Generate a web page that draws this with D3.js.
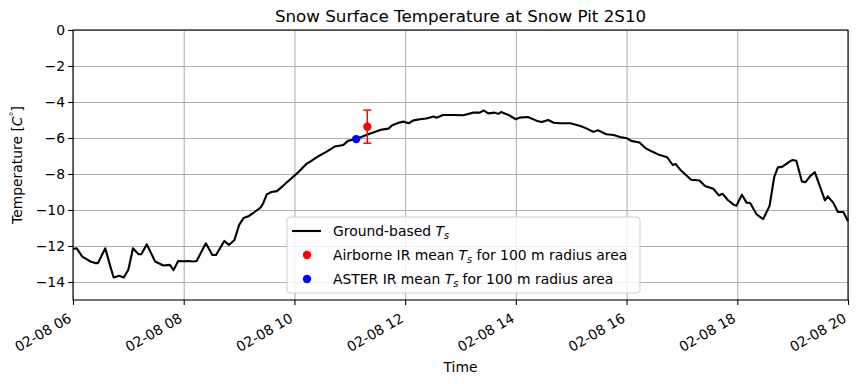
<!DOCTYPE html>
<html lang="en">
<head>
<meta charset="UTF-8">
<title>Snow Surface Temperature at Snow Pit 2S10</title>
<style>
    body { margin: 0; background: #fff; }
    svg { font-family: "DejaVu Sans", sans-serif; }
    .grid line { stroke: #b0b0b0; stroke-width: 1.1px; }
    .grid path { display: none; }
</style>
</head>
<body>
<div id="chart"></div>
<script src="https://cdn.jsdelivr.net/npm/d3@7"></script>
<script>
// ground-based snow surface temperature, 2020-02-08 (hour of day, degC)
const hours = [6.00,6.07,6.16,6.31,6.40,6.45,6.58,6.67,6.74,6.84,6.91,7.00,7.08,7.18,7.24,7.33,7.49,7.63,7.75,7.82,
    7.90,7.99,8.08,8.17,8.23,8.40,8.51,8.58,8.73,8.82,8.91,9.00,9.09,9.17,9.26,9.38,9.43,9.50,9.59,9.68,
    9.79,9.86,9.91,10.01,10.10,10.22,10.30,10.40,10.58,10.73,10.88,10.97,11.12,11.30,11.55,11.70,11.76,11.88,11.97,12.06,
    12.15,12.27,12.39,12.51,12.57,12.69,12.87,13.05,13.23,13.35,13.41,13.50,13.62,13.68,13.74,13.86,14.00,14.07,14.22,14.38,
    14.46,14.59,14.68,14.80,14.98,15.16,15.28,15.40,15.49,15.64,15.76,15.88,16.00,16.09,16.24,16.35,16.45,16.60,16.74,16.83,
    16.89,16.99,17.17,17.31,17.42,17.57,17.66,17.73,17.84,17.93,17.99,18.08,18.17,18.24,18.35,18.47,18.58,18.66,18.74,18.82,
    18.95,19.00,19.07,19.16,19.24,19.32,19.40,19.58,19.64,19.73,19.82,19.91,20.00];
const groundTs = [-12.17,-12.13,-12.59,-12.86,-12.95,-12.95,-12.13,-13.05,-13.75,-13.65,-13.75,-13.32,-12.13,-12.46,-12.46,-11.91,-12.86,-13.08,-13.05,-13.34,
    -12.83,-12.85,-12.83,-12.86,-12.83,-11.85,-12.50,-12.50,-11.72,-11.94,-11.67,-10.84,-10.44,-10.35,-10.14,-9.88,-9.65,-9.13,-9.00,-8.95,
    -8.69,-8.45,-8.32,-8.05,-7.81,-7.44,-7.28,-7.07,-6.76,-6.47,-6.39,-6.16,-6.06,-5.83,-5.55,-5.48,-5.29,-5.15,-5.09,-5.18,
    -5.02,-4.96,-4.92,-4.81,-4.87,-4.72,-4.72,-4.74,-4.59,-4.59,-4.47,-4.63,-4.59,-4.66,-4.56,-4.72,-4.96,-4.87,-4.83,-5.05,
    -5.11,-5.00,-5.15,-5.18,-5.18,-5.33,-5.48,-5.66,-5.57,-5.79,-5.83,-5.94,-6.01,-6.16,-6.25,-6.58,-6.74,-6.95,-7.07,-7.50,
    -7.44,-7.81,-8.32,-8.36,-8.67,-8.82,-9.19,-9.10,-9.46,-9.70,-9.77,-9.15,-9.59,-9.61,-10.25,-10.51,-9.77,-8.18,-7.63,-7.59,
    -7.30,-7.22,-7.26,-8.42,-8.45,-8.12,-7.90,-9.46,-9.24,-9.59,-10.11,-10.11,-10.62];

// remote sensing means
const airborne = { hour: 11.31, ts: -5.37, err: 0.92 };
const aster = { hour: 11.12, ts: -6.06 };

const xRange = [6, 20];
const yRange = [-15, 0];
const yTicks = [-14, -12, -10, -8, -6, -4, -2, 0];

const toDate = h => new Date(2020, 1, 8, Math.floor(h), Math.round((h % 1) * 60));

const W = 857, H = 384;
const margin = { top: 30, right: 9, bottom: 84, left: 73 };
const w = W - margin.left - margin.right;
const h = H - margin.top - margin.bottom;
const fs = "13.9px";
const font = "DejaVu Sans, sans-serif";

const svg = d3.select("#chart").append("svg").attr("width", W).attr("height", H);
const g = svg.append("g").attr("transform", `translate(${margin.left},${margin.top})`);

const x = d3.scaleTime().domain(xRange.map(toDate)).range([0, w]);
const y = d3.scaleLinear().domain(yRange).range([h, 0]);
const xTicks = d3.range(6, 21, 2).map(toDate);

// grid
g.append("g").attr("class", "grid").attr("transform", `translate(0,${h})`)
    .call(d3.axisBottom(x).tickValues(xTicks).tickSize(-h).tickFormat(""));
g.append("g").attr("class", "grid")
    .call(d3.axisLeft(y).tickValues(yTicks).tickSize(-w).tickFormat(""));

// ground line
const line = d3.line().x((d, i) => x(toDate(hours[i]))).y(d => y(d));
g.append("path").datum(groundTs).attr("d", line)
    .attr("fill", "none").attr("stroke", "black").attr("stroke-width", 2.1)
    .attr("stroke-linejoin", "round");

// airborne with error bar
const ax = x(toDate(airborne.hour));
g.append("line").attr("x1", ax).attr("x2", ax)
    .attr("y1", y(airborne.ts - airborne.err)).attr("y2", y(airborne.ts + airborne.err))
    .attr("stroke", "red").attr("stroke-width", 1.5);
[airborne.ts - airborne.err, airborne.ts + airborne.err].forEach(v => {
    g.append("line").attr("x1", ax - 4).attr("x2", ax + 4).attr("y1", y(v)).attr("y2", y(v))
        .attr("stroke", "red").attr("stroke-width", 1.5);
});
g.append("circle").attr("cx", ax).attr("cy", y(airborne.ts)).attr("r", 4.2).attr("fill", "red");
g.append("circle").attr("cx", x(toDate(aster.hour))).attr("cy", y(aster.ts)).attr("r", 4.2).attr("fill", "blue");

// axes
const xAxis = g.append("g").attr("transform", `translate(0,${h})`)
    .call(d3.axisBottom(x).tickValues(xTicks).tickFormat(d3.timeFormat("%m-%d %H")).tickSize(4.9).tickSizeOuter(0));
xAxis.selectAll("text")
    .attr("text-anchor", "end")
    .attr("dy", null).attr("y", 0)
    .attr("transform", "translate(-1,21) rotate(-30)");
const yAxis = g.append("g")
    .call(d3.axisLeft(y).tickValues(yTicks).tickFormat(d => d < 0 ? "\u2212" + Math.abs(d) : d).tickSize(4.9).tickSizeOuter(0));
yAxis.selectAll("text").attr("x", -8);
[xAxis, yAxis].forEach(a => {
    a.attr("font-family", font).attr("font-size", fs);
    a.selectAll("text").attr("fill", "black");
    a.select(".domain").remove();
    a.selectAll("line").attr("stroke", "black").attr("stroke-width", 1.1);
});

// frame
g.append("rect").attr("width", w).attr("height", h)
    .attr("fill", "none").attr("stroke", "black").attr("stroke-width", 1.1);

// titles
svg.append("text").attr("x", margin.left + w / 2).attr("y", 22)
    .attr("text-anchor", "middle").attr("font-size", "16.7px").text("Snow Surface Temperature at Snow Pit 2S10");
svg.append("text").attr("x", margin.left + w / 2).attr("y", 372)
    .attr("text-anchor", "middle").attr("font-size", fs).text("Time");
const yl = svg.append("text").attr("transform", `translate(22,${margin.top + h / 2}) rotate(-90)`)
    .attr("text-anchor", "middle").attr("font-size", fs);
yl.append("tspan").text("Temperature [");
yl.append("tspan").attr("font-style", "italic").text("C");
yl.append("tspan").attr("font-size", "10px").attr("dy", -5).text("°");
yl.append("tspan").attr("dy", 5).text("]");

// legend
const leg = svg.append("g").attr("transform", "translate(287,217)");
leg.append("rect").attr("width", 353).attr("height", 76).attr("rx", 3)
    .attr("fill", "white").attr("fill-opacity", 0.8).attr("stroke", "#d0d0d0");
const items = [
    { type: "line", color: "black", pre: "Ground-based ", post: "" },
    { type: "dot", color: "red", pre: "Airborne IR mean ", post: " for 100 m radius area" },
    { type: "dot", color: "blue", pre: "ASTER IR mean ", post: " for 100 m radius area" }
];
items.forEach((it, i) => {
    const cy = 14 + i * 24;
    if (it.type === "line") {
        leg.append("line").attr("x1", 5).attr("x2", 34).attr("y1", cy).attr("y2", cy)
            .attr("stroke", it.color).attr("stroke-width", 2.1);
    } else {
        leg.append("circle").attr("cx", 20).attr("cy", cy).attr("r", 4.2).attr("fill", it.color);
    }
    const t = leg.append("text").attr("x", 46).attr("y", cy + 5).attr("font-size", fs);
    t.append("tspan").text(it.pre);
    t.append("tspan").attr("font-style", "italic").text("T");
    t.append("tspan").attr("font-style", "italic").attr("font-size", "9.7px").attr("dy", 3).text("s");
    if (it.post) t.append("tspan").attr("dy", -3).text(it.post);
});
</script>
</body>
</html>
